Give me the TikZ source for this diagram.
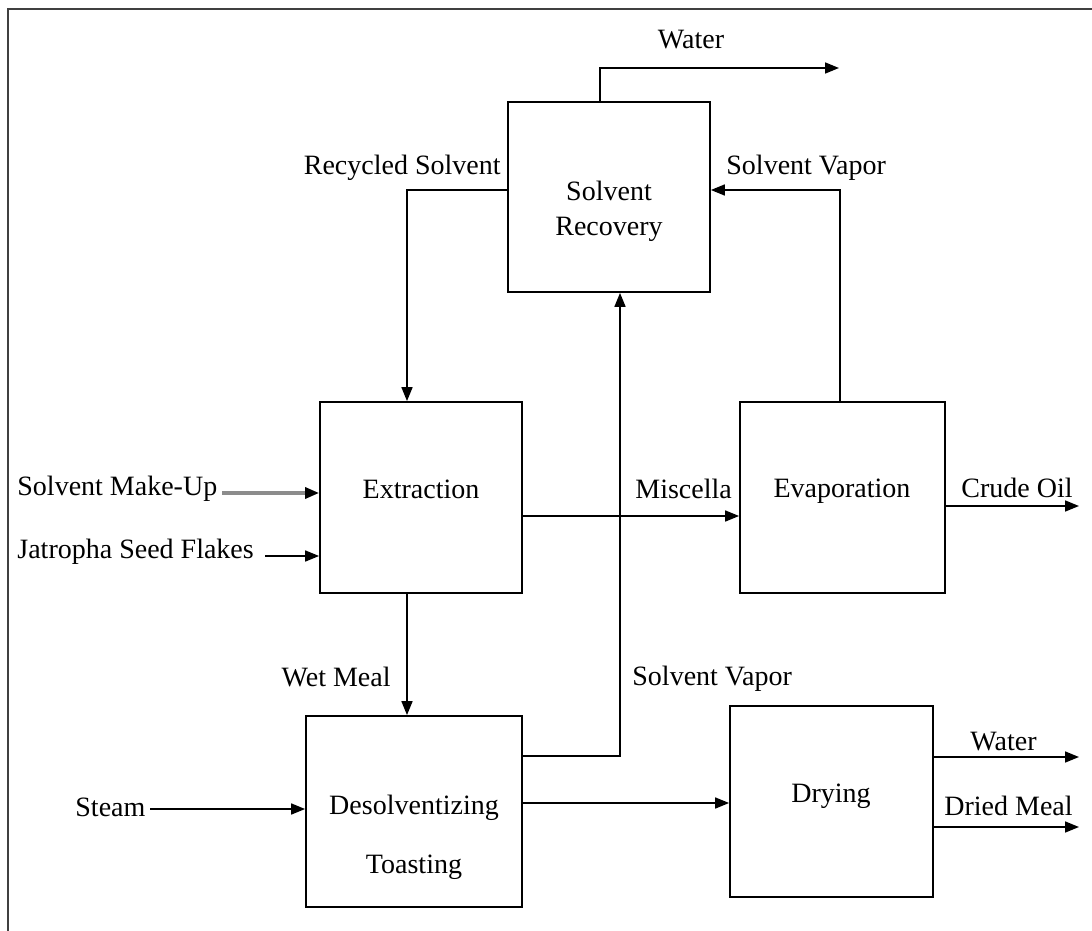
\documentclass[tikz,border=0pt]{standalone}
\usepackage{fontspec}
\setmainfont{Liberation Serif}
\usetikzlibrary{arrows.meta}

\tikzstyle{block} = [draw, line width=0.9pt, inner sep=0pt]
\tikzstyle{txt} = [inner sep=0pt, font=\fontsize{14}{16}\selectfont]
\tikzstyle{flow} = [draw, line width=0.85pt, -{Triangle[length=7pt,width=5.5pt,color=black]}]

\begin{document}
\begin{tikzpicture}[x=0.5pt,y=-0.5pt]
\useasboundingbox (0,0) rectangle (1092,931);
%frame
\draw[line width=0.8pt, black!75] (8,931) -- (8,9) -- (1092,9);

%blocks
\node[block, minimum width=101pt, minimum height=95pt] (rec) at (609,197) {};
\node[block, minimum width=101pt, minimum height=95.5pt] (ext) at (421,497.5) {};
\node[block, minimum width=102.5pt, minimum height=95.5pt] (eva) at (842.5,497.5) {};
\node[block, minimum width=108pt, minimum height=95.5pt] (des) at (414,811.5) {};
\node[block, minimum width=101.5pt, minimum height=95.5pt] (dry) at (831.5,801.5) {};

%block texts
\node[txt] (recA) at (609,191) {Solvent};
\node[txt] (recB) at (609,229) {Recovery};
\node[txt] (extT) at (421,489) {Extraction};
\node[txt] (evaT) at (842,491) {Evaporation};
\node[txt] (desA) at (414,808) {Desolventizing};
\node[txt] (desB) at (414,867) {Toasting};
\node[txt] (dryT) at (831,796) {Drying};

%stream texts
\node[txt] (wtopT) at (691,40) {Water};
\node[txt, anchor=east] (rsT) at (501,168) {Recycled Solvent};
\node[txt, anchor=west] (sv1T) at (726,168) {Solvent Vapor};
\node[txt, anchor=west] (muT) at (17,489) {Solvent Make-Up};
\node[txt, anchor=west] (jsT) at (17,552) {Jatropha Seed Flakes};
\node[txt, anchor=west] (miT) at (635,489) {Miscella};
\node[txt, anchor=west] (coT) at (961,488) {Crude Oil};
\node[txt, anchor=east] (wmT) at (391,677) {Wet Meal};
\node[txt, anchor=west] (sv2T) at (632,679) {Solvent Vapor};
\node[txt, anchor=west] (stT) at (75,807) {Steam};
\node[txt, anchor=west] (wbT) at (970,742) {Water};
\node[txt, anchor=west] (dmT) at (944,806) {Dried Meal};

%free ends
\coordinate (wtop) at (839,68);
\coordinate (mu) at (222,493);
\coordinate (js) at (265,556);
\coordinate (co) at (1079,506);
\coordinate (st) at (150,809);
\coordinate (wb) at (1079,757);
\coordinate (dm) at (1079,827);

%streams
\path[flow] ([xshift=-4.5pt]rec.north) |- (wtop);% water
\path[flow] ([yshift=3.5pt]rec.west) -| ([xshift=-7pt]ext.north);% recycled solvent
\path[flow] ([xshift=-1.25pt]eva.north) |- ([yshift=3.5pt]rec.east);% solvent vapor
\path[flow] ([yshift=27.75pt]des.east) -| ([xshift=5.5pt]rec.south);% solvent vapor
\path[flow, line width=1.6pt, black!45] (mu) -- (ext.west |- mu);% make-up
\path[flow] (js) -- (ext.west |- js);% seed flakes
\path[flow] ([yshift=-9.25pt]ext.east) -- ([yshift=-9.25pt]ext.east -| eva.west);% miscella
\path[flow] (eva.east |- co) -- (co);% crude oil
\path[flow] ([xshift=-7pt]ext.south) -- ([xshift=-7pt]ext.south |- des.north);% wet meal
\path[flow] (st) -- (des.west |- st);% steam
\path[flow] ([yshift=-0.75pt]des.east |- dry.west) -- ([yshift=-0.75pt]dry.west);% to drying
\path[flow] (dry.east |- wb) -- (wb);% water
\path[flow] (dry.east |- dm) -- (dm);% dried meal
\end{tikzpicture}
\end{document}
